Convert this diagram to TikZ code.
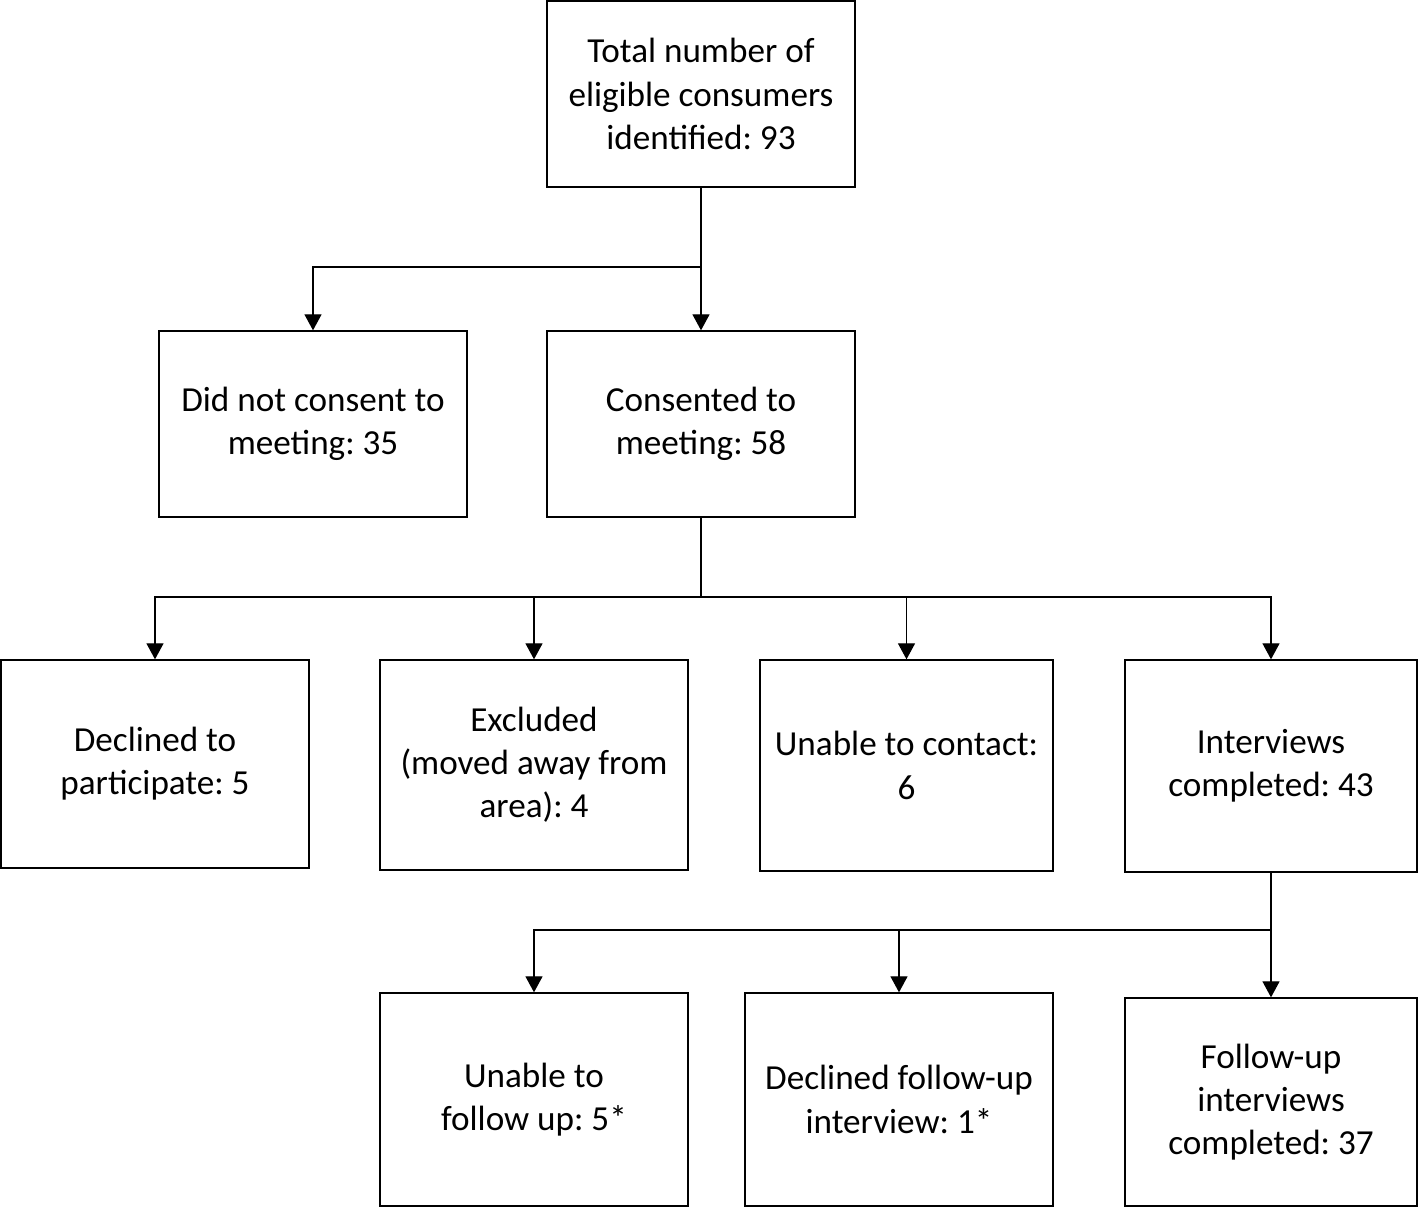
\documentclass[tikz,border=0pt]{standalone}
\usepackage{fontspec}
\setmainfont{Carlito}
\usepackage{tikz}
\usetikzlibrary{calc,positioning,arrows.meta}
\frenchspacing

\begin{document}
\begin{tikzpicture}[>={Triangle[length=0.32cm,width=0.34cm]},
      every node/.style={font=\fontsize{20}{24.6}\selectfont},
      stagebox/.style={draw=black,line width=0.75pt,align=center,inner sep=0pt,minimum width=6.16cm},
      flow/.style={line width=0.75pt,->}]
      \useasboundingbox (0,0) rectangle (28.38,24.16);
      \node[stagebox,minimum height=3.72cm] (total) at (14.02,22.28) {Total number of\\eligible consumers\\identified: 93};
      \node[stagebox,minimum height=3.72cm] (noconsent) at (6.26,15.68) {Did not consent to\\meeting: 35};
      \node[stagebox,minimum height=3.72cm] (consent) at (14.02,15.68) {Consented to\\meeting: 58};
      \draw[line width=0.75pt] (total.south) -- (14.02,18.82) coordinate (split1);
      \draw[flow] (split1) -| (noconsent.north);
      \draw[flow] (split1) -- (consent.north);
      % second row
      \node[stagebox,minimum height=4.16cm] (declined) at (3.10,8.88) {Declined to\\participate: 5};
      \node[stagebox,minimum height=4.2cm] (excluded) at (10.68,8.86) {Excluded\\(moved away from\\area): 4};
      \node[stagebox,minimum width=5.86cm,minimum height=4.22cm] (nocontact) at (18.13,8.85) {Unable to contact:\\6};
      \node[stagebox,minimum width=5.84cm,minimum height=4.24cm] (interviews) at (25.42,8.84) {Interviews\\completed: 43};
      \draw[line width=0.75pt] (consent.south) -- (14.02,12.22) coordinate (split2);
      \draw[flow] (split2) -| (declined.north);
      \draw[flow] (split2) -| (excluded.north);
      \draw[flow] (split2) -| (nocontact.north);
      \draw[flow] (split2) -| (interviews.north);
      % follow-up row
      \node[stagebox,minimum height=4.26cm] (nofollow) at (10.68,2.17) {Unable to\\follow up: 5*};
      \node[stagebox,minimum height=4.26cm] (declfollow) at (17.98,2.17) {Declined follow-up\\interview: 1*};
      \node[stagebox,minimum width=5.84cm,minimum height=4.16cm] (followup) at (25.42,2.12) {Follow-up\\interviews\\completed: 37};
      \draw[line width=0.75pt] (interviews.south) -- (25.42,5.56) coordinate (split3);
      \draw[flow] (split3) -| (nofollow.north);
      \draw[flow] (split3) -| (declfollow.north);
      \draw[flow] (split3) -- (followup.north);
\end{tikzpicture}
\end{document}
